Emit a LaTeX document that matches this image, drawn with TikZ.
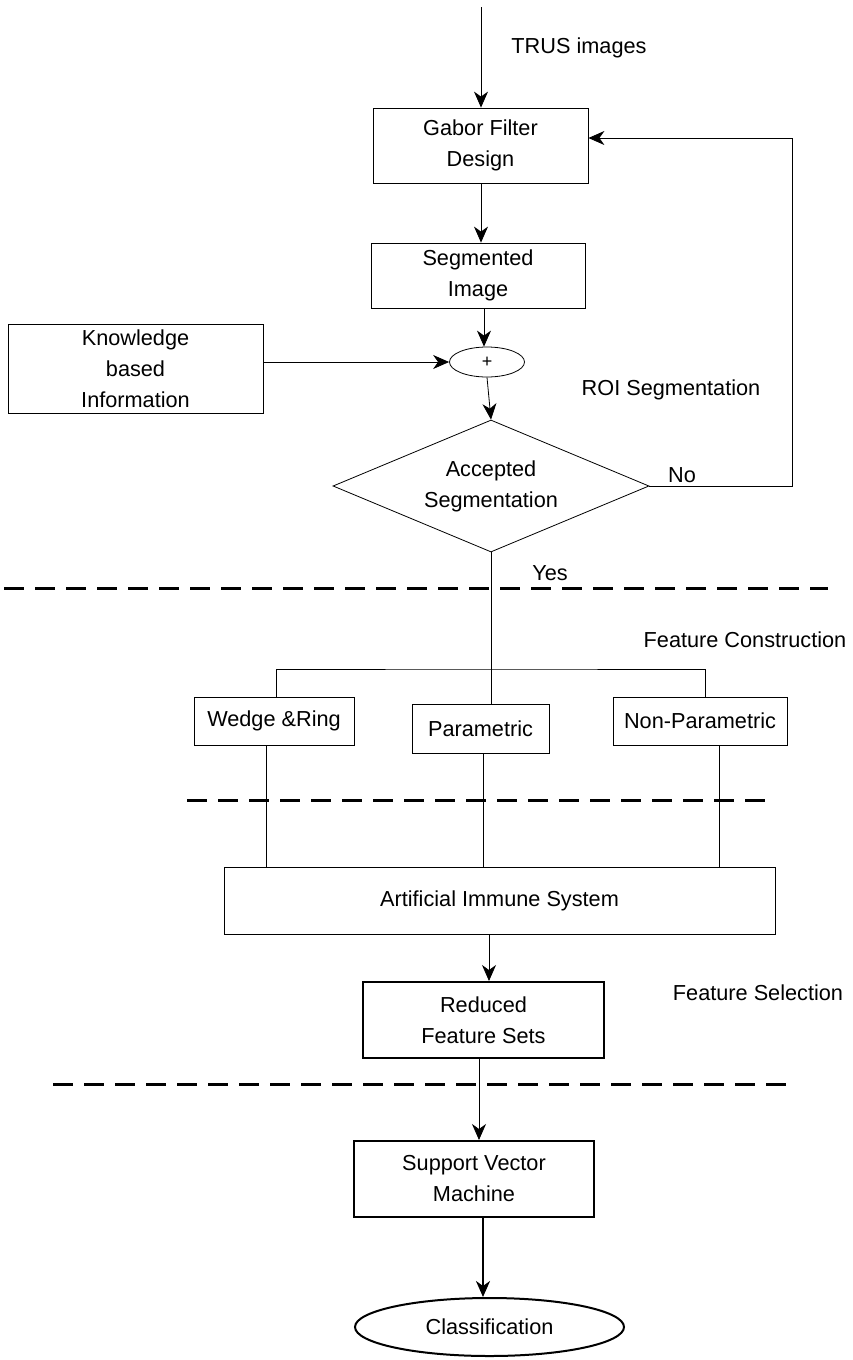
\documentclass[tikz,border=0pt]{standalone}
\usepackage{fontspec}
\setmainfont{Liberation Sans}
\usetikzlibrary{shapes.geometric,arrows.meta}

\begin{document}
\begin{tikzpicture}[x=1pt,y=-1pt,line width=0.8pt,
    >={Stealth[length=16pt,width=14pt,inset=5pt]},
    font=\fontsize{21.7}{31}\selectfont,
    stagesep/.style={dash pattern=on 20pt off 11pt,line width=3pt}]
\useasboundingbox (0,0) rectangle (852,1360);

\begin{scope}[every node/.style={draw,align=center,inner sep=0pt}]
    \node[minimum width=215,minimum height=75] (gabor) at (480.5,145.5) {Gabor Filter\\Design};
    \node[minimum width=214,minimum height=65] (seg) at (478,275.5) {Segmented\\Image};
    \node[minimum width=255,minimum height=89] (know) at (135.5,368.5) {Knowledge\\based\\Information};
    \node[ellipse,minimum width=75,minimum height=30,font=\fontsize{18}{20}\selectfont] (plus) at (487,362) {+};
    \node[diamond,aspect=2.4,minimum width=316,minimum height=132] (acc) at (491,486) {Accepted\\Segmentation};
    \node[minimum width=160,minimum height=48] (wedge) at (274,721) {Wedge \&Ring};
    \node[minimum width=137,minimum height=49] (param) at (480.5,728.5) {Parametric};
    \node[minimum width=174,minimum height=48] (nonparam) at (700,721) {Non-Parametric};
    \node[minimum width=551,minimum height=67] (ais) at (499.5,900.5) {Artificial Immune System};
    \node[minimum width=241,minimum height=76,line width=2pt] (red) at (483.5,1020) {Reduced\\Feature Sets};
    \node[minimum width=240,minimum height=76,line width=2pt] (svm) at (474,1179) {Support Vector\\Machine};
    \node[ellipse,minimum width=269,minimum height=58,line width=2pt] (cls) at (489.5,1327) {Classification};
\end{scope}

\begin{scope}[every node/.style={inner sep=0pt}]
    \node (trus) at (579,48) {TRUS images};
    \node (roi) at (671,390) {ROI Segmentation};
    \node (no) at (682,475) {No};
    \node (yes) at (550,573) {Yes};
    \node (fcons) at (745,640) {Feature Construction};
    \node (fsel) at (758,993) {Feature Selection};
\end{scope}

\coordinate (in) at (481,7);
\coordinate (fb) at (792,138);
\coordinate (br) at (492,669);

\begin{scope}[every edge/.style={draw=black,line width=0.8pt}]
    \path [->] (in) edge (in |- gabor.north);
    \path [->] (in |- gabor.south) edge (in |- seg.north);
    \path [->] ([xshift=-3]plus.north |- seg.south) edge ([xshift=-3]plus.north);
    \path [->] (know.east |- plus.west) edge (plus.west);
    \path [->] (plus.south) edge (acc.north);
    \path [->] (ais.south -| 489,0) edge (red.north -| 489,0);
    \path [->] (red.south -| 479,0) edge (svm.north -| 479,0);
\end{scope}

\draw [->] (acc.east) -| (fb) -- (fb -| gabor.east);
\draw (acc.south) -- (acc.south |- param.north);
\draw (wedge.north -| 276,0) |- (br) -| (nonparam.north -| 705,0);
\draw (wedge.south -| 266,0) -- (ais.north -| 266,0);
\draw (param.south -| 483,0) -- (ais.north -| 483,0);
\draw (nonparam.south -| 719,0) -- (ais.north -| 719,0);
\draw [->,line width=2.2pt] (svm.south -| 483,0) -- (cls.north -| 483,0);

\draw [stagesep] (4,588) -- (828,588);
\draw [stagesep] (187,800) -- (775,800);
\draw [stagesep] (53,1084) -- (797,1084);
\end{tikzpicture}
\end{document}
